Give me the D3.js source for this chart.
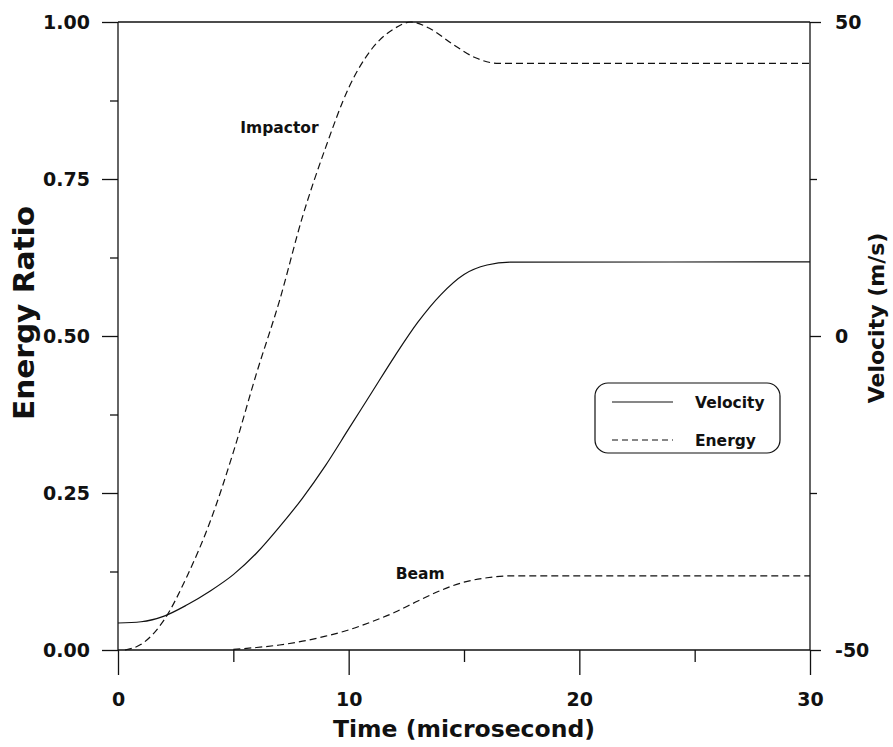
<!DOCTYPE html>
<html>
<head>
<meta charset="utf-8">
<script src="https://cdn.jsdelivr.net/npm/d3@7"></script>
<style>
  html, body { margin: 0; padding: 0; background: #fff; }
  svg text { font-family: "DejaVu Sans", sans-serif; font-weight: bold; fill: #111; }
</style>
</head>
<body>
<svg id="chart" width="893" height="747"></svg>
<script>
// Time axis (microseconds)
const impactorTime   = [0.3, 1, 2, 3, 4, 5, 6, 7, 8, 9, 10, 11, 12, 12.7, 13.5, 14.5, 15.5, 16.5, 30];
const impactorEnergy = [0, 0.009, 0.048, 0.118, 0.205, 0.315, 0.44, 0.556, 0.69, 0.80, 0.895, 0.957, 0.99, 1.0, 0.99, 0.965, 0.943, 0.934, 0.934];

const beamTime   = [5, 6, 7, 8, 9, 10, 11, 12, 13, 14, 15, 16, 17, 30];
const beamEnergy = [0.001, 0.004, 0.008, 0.014, 0.022, 0.032, 0.045, 0.060, 0.078, 0.095, 0.108, 0.115, 0.118, 0.118];

const velocityTime  = [0, 1, 2, 3, 4, 5, 6, 7, 8, 9, 10, 11, 12, 13, 14, 15, 16, 17, 30];
const velocityValue = [-45.7, -45.5, -44.6, -42.8, -40.6, -38.0, -34.6, -30.4, -25.8, -20.6, -14.8, -9.0, -3.2, 2.2, 6.6, 9.8, 11.3, 11.75, 11.8];

const timeTicks      = [0, 10, 20, 30];
const timeMinor      = [5, 15, 25];
const energyTicks    = [0, 0.25, 0.5, 0.75, 1.0];
const energyMinor    = [0.125, 0.375, 0.625, 0.875];
const velocityTicks  = [-50, 0, 50];
const velocityMinor  = [-25, 25];

const curveLabels = [
  { text: "Impactor", t: 7.0, e: 0.823 },
  { text: "Beam",     t: 13.1, e: 0.113 }
];
const legendItems = [
  { text: "Velocity", dash: null },
  { text: "Energy",   dash: "6,4" }
];

const svg = d3.select("#chart");
const plotLeft = 118, plotRight = 810, plotTop = 22, plotBottom = 650;
const ink = "#111";

const x  = d3.scaleLinear().domain([0, 30]).range([plotLeft, plotRight]);
const yE = d3.scaleLinear().domain([0, 1]).range([plotBottom, plotTop]);
const yV = d3.scaleLinear().domain([-50, 50]).range([plotBottom, plotTop]);

function styleAxis(g) {
  g.selectAll("path, line").attr("stroke", ink).attr("stroke-width", 1.3);
  g.select(".domain").remove();
  g.selectAll("text").attr("fill", ink).attr("font-family", "DejaVu Sans").attr("font-weight", "bold");
}

// Frame lines
const frame = [
  [plotLeft, plotTop, plotRight, plotTop],
  [plotLeft, plotBottom, plotRight, plotBottom],
  [plotLeft, plotTop, plotLeft, plotBottom],
  [plotRight, plotTop, plotRight, plotBottom]
];
svg.selectAll("line.frame").data(frame).join("line")
  .attr("class", "frame")
  .attr("x1", d => d[0]).attr("y1", d => d[1]).attr("x2", d => d[2]).attr("y2", d => d[3])
  .attr("stroke", ink).attr("stroke-width", 1.3);

// Bottom axis
svg.append("g").attr("transform", `translate(0,${plotBottom})`)
  .call(d3.axisBottom(x).tickValues(timeTicks).tickSize(25).tickPadding(18).tickFormat(d => String(d)))
  .call(styleAxis)
  .call(g => g.selectAll("text").attr("font-size", 19));
svg.append("g").attr("transform", `translate(0,${plotBottom})`)
  .call(d3.axisBottom(x).tickValues(timeMinor).tickSize(12).tickFormat(""))
  .call(styleAxis);

// Left axis (energy ratio)
svg.append("g").attr("transform", `translate(${plotLeft},0)`)
  .call(d3.axisLeft(yE).tickValues(energyTicks).tickSize(16).tickPadding(12).tickFormat(d3.format(".2f")))
  .call(styleAxis)
  .call(g => g.selectAll("text").attr("font-size", 19));
svg.append("g").attr("transform", `translate(${plotLeft},0)`)
  .call(d3.axisLeft(yE).tickValues(energyMinor).tickSize(8).tickFormat(""))
  .call(styleAxis);

// Right axis (velocity)
svg.append("g").attr("transform", `translate(${plotRight},0)`)
  .call(d3.axisRight(yV).tickValues(velocityTicks).tickSize(11).tickPadding(14).tickFormat(d => String(d)))
  .call(styleAxis)
  .call(g => g.selectAll("text").attr("font-size", 19));
svg.append("g").attr("transform", `translate(${plotRight},0)`)
  .call(d3.axisRight(yV).tickValues(velocityMinor).tickSize(7).tickFormat(""))
  .call(styleAxis);

// Axis titles
svg.append("text").attr("x", (plotLeft + plotRight) / 2).attr("y", 737)
  .attr("text-anchor", "middle").attr("font-size", 23.5).text("Time (microsecond)");
svg.append("text").attr("transform", "translate(34,313) rotate(-90)")
  .attr("text-anchor", "middle").attr("font-size", 28)
  .attr("textLength", 214).attr("lengthAdjust", "spacingAndGlyphs").text("Energy Ratio");
svg.append("text").attr("transform", "translate(884,318) rotate(-90)")
  .attr("text-anchor", "middle").attr("font-size", 22).text("Velocity (m/s)");

// Curves
const lineE = d3.line().x(d => x(d[0])).y(d => yE(d[1])).curve(d3.curveMonotoneX);
const lineV = d3.line().x(d => x(d[0])).y(d => yV(d[1])).curve(d3.curveMonotoneX);

svg.append("path").datum(d3.zip(impactorTime, impactorEnergy))
  .attr("d", lineE).attr("fill", "none").attr("stroke", ink).attr("stroke-width", 1.2)
  .attr("stroke-dasharray", "7,4");
svg.append("path").datum(d3.zip(beamTime, beamEnergy))
  .attr("d", lineE).attr("fill", "none").attr("stroke", ink).attr("stroke-width", 1.2)
  .attr("stroke-dasharray", "7,4");
svg.append("path").datum(d3.zip(velocityTime, velocityValue))
  .attr("d", lineV).attr("fill", "none").attr("stroke", ink).attr("stroke-width", 1.2);

// Curve labels
svg.selectAll("text.curve-label").data(curveLabels).join("text")
  .attr("class", "curve-label")
  .attr("x", d => x(d.t)).attr("y", d => yE(d.e))
  .attr("text-anchor", "middle").attr("font-size", 15.5)
  .text(d => d.text);

// Legend
const legend = svg.append("g").attr("transform", "translate(595,383)");
legend.append("rect").attr("width", 185).attr("height", 70).attr("rx", 13).attr("ry", 13)
  .attr("fill", "#fff").attr("stroke", ink).attr("stroke-width", 1.2);
legend.selectAll("g.item").data(legendItems).join("g")
  .attr("class", "item")
  .attr("transform", (d, i) => `translate(0,${19 + i * 38})`)
  .each(function (d) {
    const g = d3.select(this);
    g.append("line").attr("x1", 17).attr("x2", 78).attr("y1", 0).attr("y2", 0)
      .attr("stroke", ink).attr("stroke-width", 1.2)
      .attr("stroke-dasharray", d.dash);
    g.append("text").attr("x", 100).attr("y", 0).attr("dy", "0.36em")
      .attr("font-size", 15.5).text(d.text);
  });
</script>
</body>
</html>
